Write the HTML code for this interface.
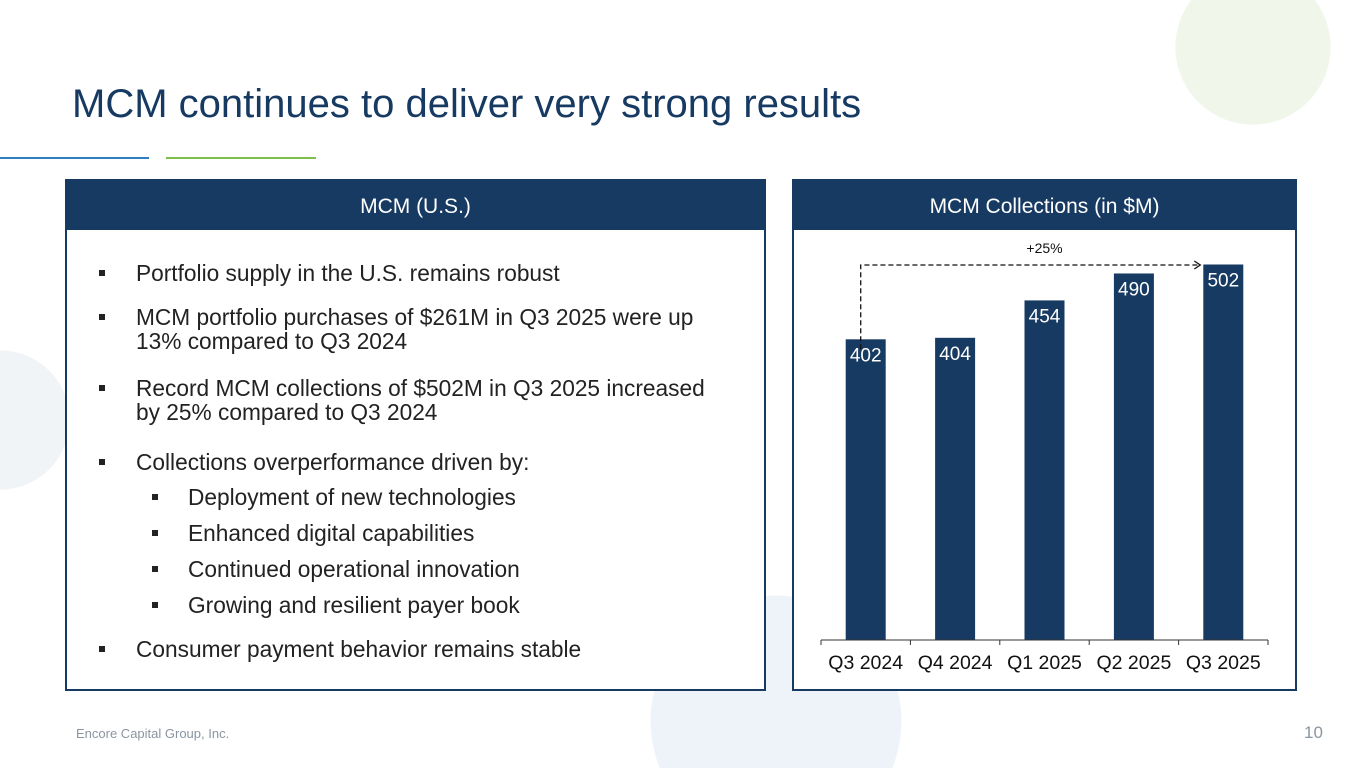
<!DOCTYPE html>
<html><head><meta charset="utf-8"><style>
html,body{margin:0;width:1365px;height:768px;overflow:hidden}
body{background:#fff;font-family:"Liberation Sans",Arial,sans-serif;position:relative}
.abs{position:absolute}
.panel{position:absolute;border:2px solid #173a62;background:#fff;box-sizing:border-box}
.hdr{height:49px;background:#173a62;color:#fff;font-size:21px;text-align:center;line-height:52px}
.b{position:absolute;font-size:22.7px;color:#222;line-height:24px;white-space:nowrap}
.sq{position:absolute;width:6px;height:6px;background:#222}
</style></head><body>
<div class="abs" style="left:0;top:0;width:1365px;height:768px;background:
radial-gradient(circle 78px at 1253px 47px,#f0f7ea 99%,transparent 100%),
radial-gradient(circle 70px at 0px 420px,#f1f4f7 99%,transparent 100%),
radial-gradient(circle 126px at 776px 721px,#edf3f9 99%,transparent 100%)"></div>

<div class="abs" style="left:72px;top:82px;font-size:40px;color:#173a62;white-space:nowrap">MCM continues to deliver very strong results</div>
<div class="abs" style="left:0;top:157px;width:149px;height:2px;background:#2f7ec4"></div>
<div class="abs" style="left:166px;top:157px;width:150px;height:2px;background:#7cc04a"></div>

<div class="panel" style="left:65px;top:179px;width:701px;height:512px">
<div class="hdr">MCM (U.S.)</div>
</div>
<div class="sq" style="left:99px;top:270px"></div>
<div class="b" style="left:136px;top:261px">Portfolio supply in the U.S. remains robust</div>
<div class="sq" style="left:99px;top:314px"></div>
<div class="b" style="left:136px;top:305px">MCM portfolio purchases of $261M in Q3 2025 were up<br>13% compared to Q3 2024</div>
<div class="sq" style="left:99px;top:385px"></div>
<div class="b" style="left:136px;top:376px">Record MCM collections of $502M in Q3 2025 increased<br>by 25% compared to Q3 2024</div>
<div class="sq" style="left:99px;top:459px"></div>
<div class="b" style="left:136px;top:450px">Collections overperformance driven by:</div>
<div class="sq" style="left:152px;top:494px"></div>
<div class="b" style="left:188px;top:485px">Deployment of new technologies</div>
<div class="sq" style="left:152px;top:530px"></div>
<div class="b" style="left:188px;top:521px">Enhanced digital capabilities</div>
<div class="sq" style="left:152px;top:566px"></div>
<div class="b" style="left:188px;top:557px">Continued operational innovation</div>
<div class="sq" style="left:152px;top:602px"></div>
<div class="b" style="left:188px;top:593px">Growing and resilient payer book</div>
<div class="sq" style="left:99px;top:646px"></div>
<div class="b" style="left:136px;top:637px">Consumer payment behavior remains stable</div>

<div class="panel" style="left:792px;top:179px;width:505px;height:512px">
<div class="hdr">MCM Collections (in $M)</div>
</div>
<svg id="chart" class="abs" style="left:0;top:0;display:block" width="1365" height="768"></svg>

<div class="abs" style="left:76px;top:726px;font-size:13px;color:#8a95a0">Encore Capital Group, Inc.</div>
<div class="abs" style="left:1304px;top:723px;font-size:17px;color:#8a95a0">10</div>

<script>
const categories=["Q3 2024","Q4 2024","Q1 2025","Q2 2025","Q3 2025"];
const values=[402,404,454,490,502];
const changeLabel=["+25%"];
const NS="http://www.w3.org/2000/svg";
const svg=document.getElementById('chart');
const x0=821,x1=1268,base=640,k=0.748;
const band=(x1-x0)/categories.length;
const xc=i=>x0+band*(i+0.5);
const y=v=>base-v*k;
function mk(t,a){const e=document.createElementNS(NS,t);for(const n in a)e.setAttribute(n,a[n]);svg.appendChild(e);return e;}
categories.forEach((c,i)=>{
  const r=mk('rect',{x:xc(i)-20,y:y(values[i]),width:40,height:base-y(values[i]),fill:'#173a62'});
  
  
  const t=mk('text',{x:xc(i),y:y(values[i])+22,'text-anchor':'middle','font-size':19,fill:'#fff','font-family':'Liberation Sans'});
  t.textContent=values[i];
  
  
  const l=mk('text',{x:xc(i),y:669,'text-anchor':'middle','font-size':19.5,fill:'#111','font-family':'Liberation Sans'});
  l.textContent=c;
  
  
});
const ax=mk('line',{x1:x0,x2:x1,y1:base,y2:base,stroke:'#333','stroke-width':1});


for(let i=0;i<=categories.length;i++){const tk=mk('line',{x1:x0+band*i,x2:x0+band*i,y1:base,y2:base+5,stroke:'#333'});

}
const ly=265;
const p=mk('path',{d:`M${xc(0)-5},${y(values[0])+10} V${ly} H${xc(categories.length-1)-23}`,fill:'none',stroke:'#111','stroke-width':1.3,'stroke-dasharray':'5,3'});


const ah=mk('path',{d:`M${xc(categories.length-1)-29},${ly-4} L${xc(categories.length-1)-23},${ly} L${xc(categories.length-1)-29},${ly+4}`,fill:'none',stroke:'#111','stroke-width':1.3});


const g=mk('text',{x:xc(2),y:253,'text-anchor':'middle','font-size':14,fill:'#111','font-family':'Liberation Sans'});
g.textContent=changeLabel[0];


</script>
</body></html>
